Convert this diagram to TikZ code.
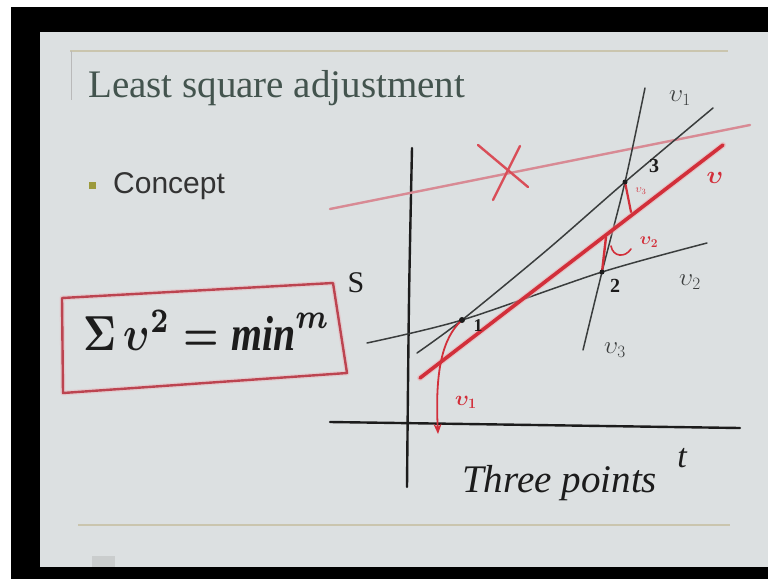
\documentclass[tikz,border=0pt]{standalone}
\usepackage{fontspec}
\setmainfont{Liberation Serif}
\newfontfamily\sansf{Liberation Sans}
\usetikzlibrary{arrows.meta}
\definecolor{slidebg}{HTML}{DCE0E1}
\definecolor{titlecol}{HTML}{43544E}
\definecolor{redink}{HTML}{D22F3A}
\definecolor{pinkink}{HTML}{D88A94}
\definecolor{boxred}{HTML}{BC4450}
\definecolor{rulecol}{HTML}{CAC5AE}
\definecolor{bulletcol}{HTML}{9C9A3C}
\definecolor{inkblack}{HTML}{1C1C1C}
\definecolor{thinink}{HTML}{3A3D3D}
\definecolor{logocol}{HTML}{CACDCD}
\tikzset{
  rule/.style={draw=rulecol, line width=2.5pt},
  axisline/.style={draw=inkblack, line width=2.4pt, line cap=round},
  thinline/.style={draw=thinink, line width=1.5pt, line cap=round},
  fitline/.style={draw=redink, line width=3.6pt, line cap=round},
  redthin/.style={draw=redink, line width=1.8pt, line cap=round},
  pinkline/.style={draw=pinkink, line width=2.4pt, line cap=round},
  boxline/.style={draw=boxred, line width=2.4pt, line join=round},
  hand/.style={inner sep=0pt, text=inkblack},
  redlabel/.style={inner sep=0pt, text=redink},
  dot/.style={circle, fill=inkblack, inner sep=0pt, minimum size=6pt}
}
\begin{document}
\begin{tikzpicture}[x=1pt,y=-1pt]
\useasboundingbox (0,0) rectangle (768,579);
\fill[white] (0,0) rectangle (768,579);
\fill[black] (11,7) rectangle (768,579);
\fill[slidebg] (40,32) rectangle (768,567);
% slide decorations
\draw[rule] (70,51) -- (728,51);
\draw[draw=gray!55, line width=1pt] (71,51) -- (71,100);
\draw[rule, line width=2.2pt] (78,525) -- (730,525);
\fill[logocol] (92,556) rectangle (115,567);
% title and bullet
\node[anchor=base west, inner sep=0pt, text=titlecol, font=\fontsize{39}{44}\selectfont] (title) at (88,97) {Least square adjustment};
\node[fill=bulletcol, inner sep=0pt, minimum size=7pt] (bullet) at (92,185) {};
\node[anchor=base west, inner sep=0pt, text=black!80, font=\sansf\fontsize{30}{34}\selectfont] (concept) at (113,193) {Concept};
% boxed formula
\draw[draw=pinkink!60, line width=5pt, line join=round, opacity=0.5] (62,298) -- (333,283) -- (347,373) -- (63,393) -- cycle;
\draw[boxline] (62,298) -- (333,283) -- (347,373) -- (63,393) -- cycle;
\node[anchor=base west, hand, font=\boldmath] (formula) at (83,350) {\resizebox{247pt}{40pt}{$\Sigma\,\upsilon^{2}=\mathit{min}^{m}$}};
% axes
\draw[axisline] plot[smooth] coordinates {(412,148) (409,300) (407,487)};
\draw[axisline] (330,422) -- (740,428);
\node[hand, font=\fontsize{30}{34}\selectfont] (slab) at (356,283) {S};
\node[hand, font=\itshape\fontsize{34}{38}\selectfont] (tlab) at (682,458) {t};
\node[anchor=base west, hand] (three) at (462,492) {\resizebox{195pt}{!}{\itshape Three points}};
% rejected line with cross
\draw[pinkline] plot[smooth] coordinates {(330,209) (520,171) (750,125)};
\coordinate (xa1) at (478,145); \coordinate (xa2) at (528,187);
\coordinate (xb1) at (520,146); \coordinate (xb2) at (493,200);
\draw[draw=redink!85, line width=2.4pt, line cap=round] (xa1) -- (xa2);
\draw[draw=redink!85, line width=2.4pt, line cap=round] (xb1) -- (xb2);
% observation lines
\coordinate (p1) at (462,320);
\coordinate (p2) at (602,272);
\coordinate (p3) at (625,182);
\draw[thinline] plot[smooth] coordinates {(645,88) (625,182) (602,272) (583,350)};
\draw[thinline] plot[smooth] coordinates {(417,353) (462,320) (547,250) (625,182) (713,108)};
\draw[thinline] plot[smooth] coordinates {(367,343) (462,320) (602,272) (707,243)};
% fitted line
\coordinate (fa) at (420,378);
\coordinate (fb) at (723,145);
\draw[draw=redink!40, line width=6pt, line cap=round, opacity=0.5] (fa) -- (fb);
\draw[fitline] (fa) -- (fb);
% residuals
\coordinate (v1tip) at (438,434);
\draw[redthin, -{Stealth[length=10pt,width=8pt]}] (p1) .. controls (442,338) and (435,372) .. (v1tip);
\coordinate (v2top) at (606,237);
\draw[redthin, line width=2.4pt] (p2) -- (v2top);
\coordinate (h1) at (611,246); \coordinate (h2) at (631,249);
\draw[redthin, line width=1.6pt] (h1) .. controls (613,257) and (625,258) .. (h2);
\coordinate (v3bot) at (631,212);
\draw[redthin, line width=2.2pt] (p3) -- (v3bot);
% points
\node[dot] (d1) at (p1) {};
\node[dot, minimum size=5pt] (d2) at (p2) {};
\node[dot, minimum size=5pt] (d3) at (p3) {};
% labels
\node[hand, font=\bfseries\fontsize{18}{20}\selectfont] (l1) at (478,326) {1};
\node[hand, font=\bfseries\fontsize{20}{22}\selectfont] (l2) at (615,286) {2};
\node[hand, font=\bfseries\fontsize{20}{22}\selectfont] (l3) at (654,166) {3};
\node[hand, text=thinink, font=\fontsize{26}{28}\selectfont] (s1) at (680,98) {$\upsilon_1$};
\node[hand, text=thinink, font=\fontsize{26}{28}\selectfont] (s2) at (690,282) {$\upsilon_2$};
\node[hand, text=thinink, font=\fontsize{26}{28}\selectfont] (s3) at (615,350) {$\upsilon_3$};
\node[redlabel, font=\boldmath\fontsize{28}{30}\selectfont] (vlab) at (715,178) {$\upsilon$};
\node[redlabel, font=\boldmath\fontsize{20}{22}\selectfont] (v1lab) at (466,402) {$\upsilon_1$};
\node[redlabel, font=\boldmath\fontsize{18}{20}\selectfont] (v2lab) at (649,242) {$\upsilon_2$};
\node[redlabel, font=\fontsize{11}{12}\selectfont] (v3lab) at (641,191) {$\upsilon_3$};
\end{tikzpicture}
\end{document}
